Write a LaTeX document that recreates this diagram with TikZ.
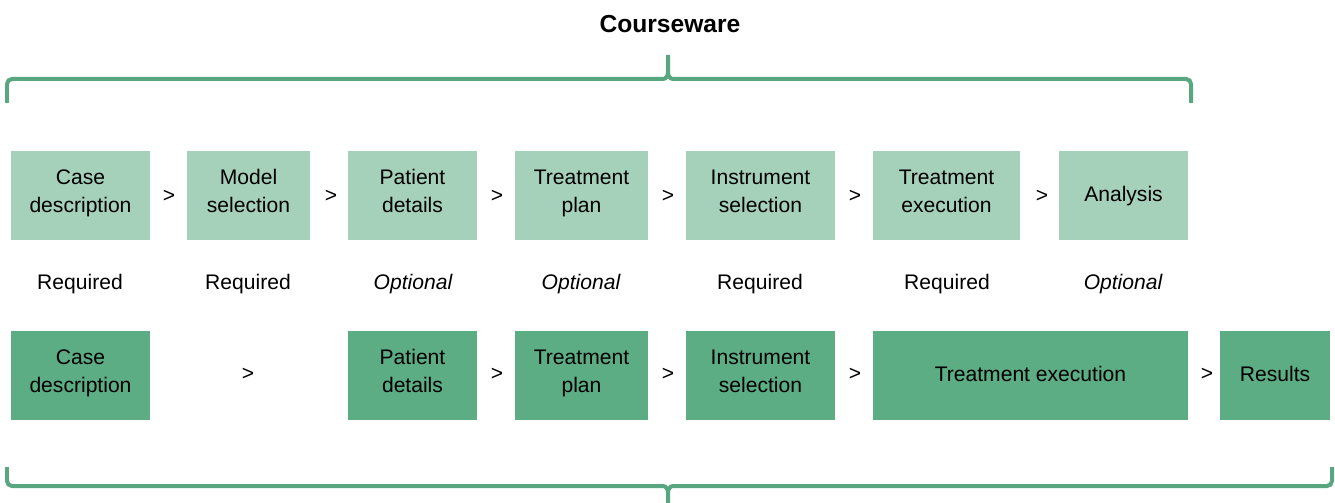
\documentclass[tikz,border=0pt]{standalone}
\usepackage{fontspec}
\setmainfont{Liberation Sans}
\usetikzlibrary{positioning}
\definecolor{mint}{HTML}{A5D1BB}
\definecolor{sage}{HTML}{5CAC84}
\colorlet{bracecol}{sage!97!black}

\begin{document}
\begin{tikzpicture}[x=0.02cm,y=-0.02cm,font=\fontsize{12}{16}\selectfont,
    box/.style={align=center,inner sep=0pt,minimum height=1.8cm,
      execute at begin node=\strut,execute at end node=\strut},
    brace/.style={draw=bracecol,line width=0.08cm}]
  \useasboundingbox (0,0) rectangle (1335,503);
  \node[font=\fontsize{14}{16}\selectfont\bfseries] (title) at (670,24) {Courseware};
  % courseware steps
  \foreach \x/\w/\lab/\nm in {%
    80.5/139/{Case\\description}/case,
    248.5/123/{Model\\selection}/model,
    412.5/129/{Patient\\details}/patient,
    581.5/133/{Treatment\\plan}/plan,
    760.5/149/{Instrument\\selection}/instr,
    946.5/147/{Treatment\\execution}/exec,
    1123.5/129/{Analysis}/analysis}{
    \node[box,fill=mint,minimum width=\w*0.02cm] (top-\nm) at (\x,195.5) {\lab};}
  \foreach \x [count=\i] in {169,331,497,668,855,1042}
    \node (gt-top-\i) at (\x,196) {>};
  \foreach \x/\lab [count=\i] in {80/Required,248/Required,413/{\itshape Optional},
    581/{\itshape Optional},760/Required,947/Required,1123/{\itshape Optional}}
    \node (need-\i) at (\x,284) {\lab};
  % delivered steps
  \foreach \x/\w/\lab/\nm in {%
    80.5/139/{Case\\description}/case,
    412.5/129/{Patient\\details}/patient,
    581.5/133/{Treatment\\plan}/plan,
    760.5/149/{Instrument\\selection}/instr,
    1030.5/315/{Treatment execution}/exec,
    1275/110/{Results}/results}{
    \node[box,fill=sage,minimum width=\w*0.02cm] (bot-\nm) at (\x,375.5) {\lab};}
  \foreach \x [count=\i] in {248,497,668,855,1207}
    \node (gt-bot-\i) at (\x,374) {>};
  % braces
  \draw[brace] (7,103) -- (7,84) to[out=90,in=180] (12,79) -- (663,79)
    to[out=0,in=-90] (668,72) -- (668,55) -- (668,72)
    to[out=-90,in=180] (673,79) -- (1186,79) to[out=0,in=90] (1191,84) -- (1191,103);
  \draw[brace] (7,467) -- (7,481) to[out=-90,in=180] (12,486) -- (663,486)
    to[out=0,in=90] (668,493) -- (668,503) -- (668,493)
    to[out=90,in=180] (673,486) -- (1327,486) to[out=0,in=-90] (1332,481) -- (1332,467);
\end{tikzpicture}
\end{document}
